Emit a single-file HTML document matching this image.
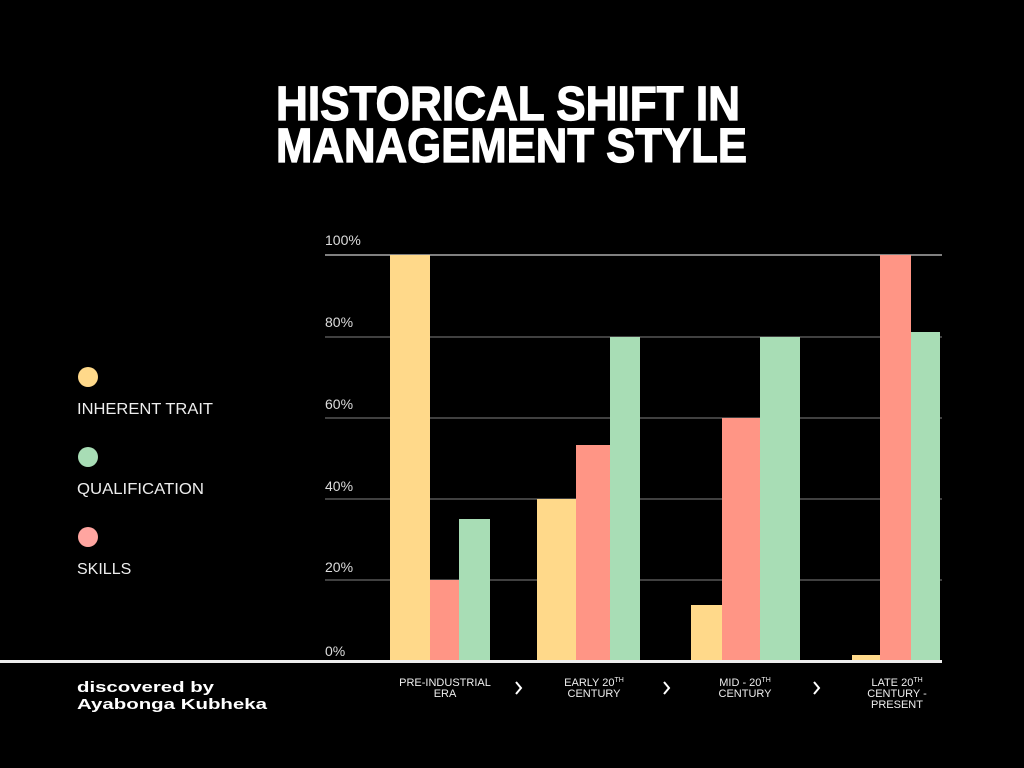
<!DOCTYPE html>
<html><head><meta charset="utf-8"><style>
html,body{margin:0;padding:0;background:#000;}
svg{display:block;}
</style></head><body>
<svg width="1024" height="768" viewBox="0 0 1024 768" xmlns="http://www.w3.org/2000/svg" font-family="Liberation Sans, sans-serif">
<rect width="1024" height="768" fill="#000"/>
<text x="276" y="120" font-size="48" font-weight="bold" fill="#fff" stroke="#fff" stroke-width="1.2" textLength="464" lengthAdjust="spacingAndGlyphs">HISTORICAL SHIFT IN</text>
<text x="276" y="162" font-size="48" font-weight="bold" fill="#fff" stroke="#fff" stroke-width="1.2" textLength="471" lengthAdjust="spacingAndGlyphs">MANAGEMENT STYLE</text>
<g stroke="#555" stroke-width="1.5">
<line x1="325" y1="255" x2="942" y2="255" stroke="#aaa"/>
<line x1="325" y1="337" x2="942" y2="337"/>
<line x1="325" y1="418" x2="942" y2="418"/>
<line x1="325" y1="499" x2="942" y2="499"/>
<line x1="325" y1="580" x2="942" y2="580"/>
</g>
<g font-size="14" fill="#ddd">
<text x="325" y="245">100%</text>
<text x="325" y="327">80%</text>
<text x="325" y="409">60%</text>
<text x="325" y="491">40%</text>
<text x="325" y="572">20%</text>
<text x="325" y="656">0%</text>
</g>
<g>
<rect x="390" y="255" width="40" height="406" fill="#FFD98A"/>
<rect x="430" y="580" width="29" height="81" fill="#FF9585"/>
<rect x="459" y="519" width="31" height="142" fill="#A8DDB5"/>
<rect x="537" y="499" width="39" height="162" fill="#FFD98A"/>
<rect x="576" y="445" width="34" height="216" fill="#FF9585"/>
<rect x="610" y="337" width="30" height="324" fill="#A8DDB5"/>
<rect x="691" y="605" width="31" height="56" fill="#FFD98A"/>
<rect x="722" y="418" width="38" height="243" fill="#FF9585"/>
<rect x="760" y="337" width="40" height="324" fill="#A8DDB5"/>
<rect x="852" y="655" width="28" height="6" fill="#FFD98A"/>
<rect x="880" y="255" width="31" height="406" fill="#FF9585"/>
<rect x="911" y="332" width="29" height="329" fill="#A8DDB5"/>
</g>
<rect x="0" y="660" width="942" height="3" fill="#eee"/>
<circle cx="88" cy="377" r="10" fill="#FFD98A"/>
<circle cx="88" cy="457" r="10" fill="#A8DDB5"/>
<circle cx="88" cy="537" r="10" fill="#FFA5A0"/>
<g font-size="16" fill="#eee">
<text x="77" y="414" textLength="136" lengthAdjust="spacingAndGlyphs">INHERENT TRAIT</text>
<text x="77" y="494" textLength="127" lengthAdjust="spacingAndGlyphs">QUALIFICATION</text>
<text x="77" y="574">SKILLS</text>
</g>
<g font-size="15" font-weight="bold" fill="#fff">
<text x="77" y="692" textLength="137" lengthAdjust="spacingAndGlyphs">discovered by</text>
<text x="77" y="709" textLength="190" lengthAdjust="spacingAndGlyphs">Ayabonga Kubheka</text>
</g>
<g font-size="11" fill="#eee" text-anchor="middle">
<text x="445" y="686">PRE-INDUSTRIAL</text>
<text x="445" y="697">ERA</text>
<text x="594" y="686">EARLY 20<tspan font-size="7" dy="-4">TH</tspan></text>
<text x="594" y="697">CENTURY</text>
<text x="745" y="686">MID - 20<tspan font-size="7" dy="-4">TH</tspan></text>
<text x="745" y="697">CENTURY</text>
<text x="897" y="686">LATE 20<tspan font-size="7" dy="-4">TH</tspan></text>
<text x="897" y="697">CENTURY -</text>
<text x="897" y="708">PRESENT</text>
</g>
<g stroke="#fff" stroke-width="2" fill="none">
<polyline points="516,682 521,688 516,694"/>
<polyline points="664,682 669,688 664,694"/>
<polyline points="814,682 819,688 814,694"/>
</g>
</svg>
</body></html>
